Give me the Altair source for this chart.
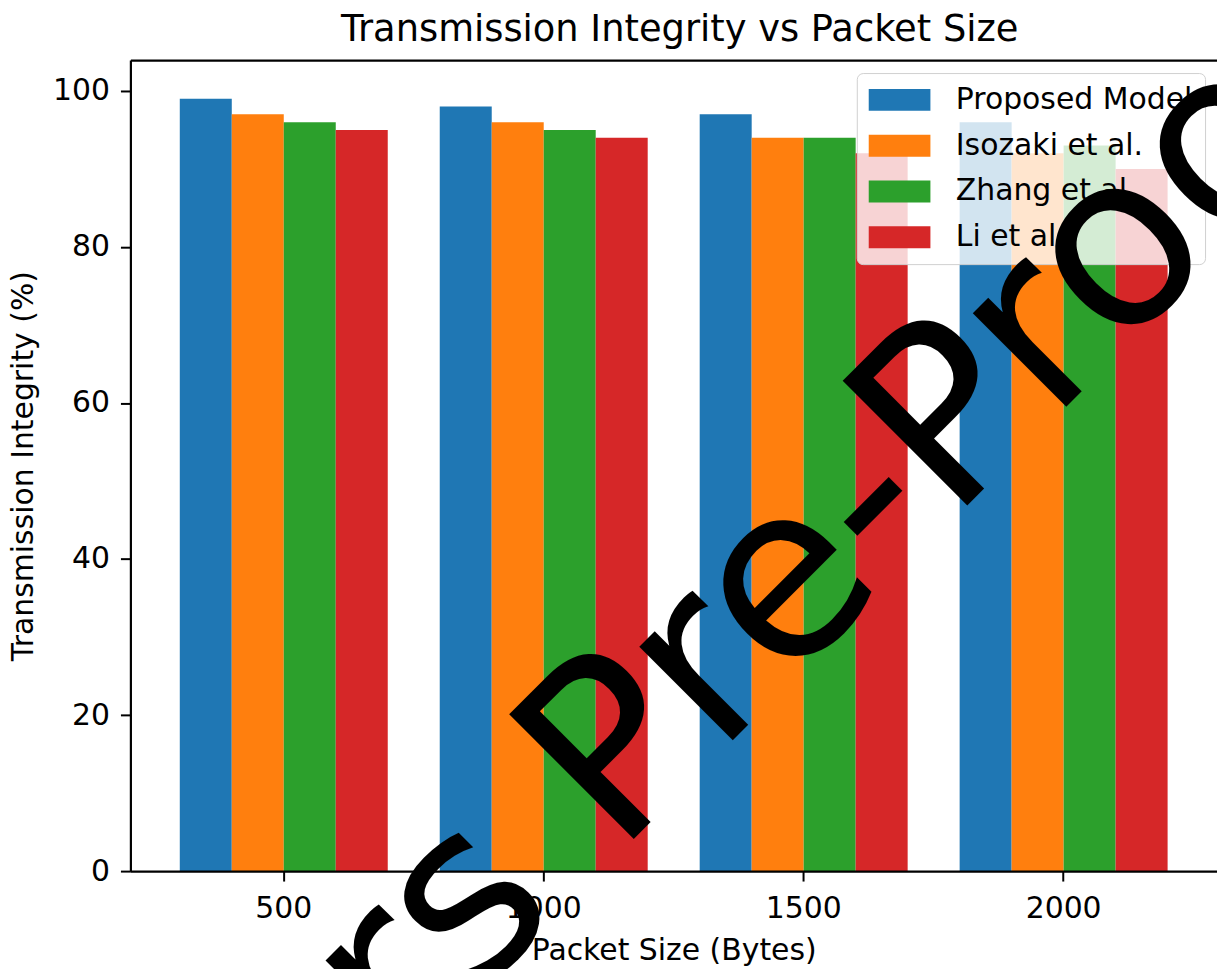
import altair as alt
import pandas as pd

packet_sizes = ["500", "1000", "1500", "2000"]
methods = ["Proposed Model", "Isozaki et al.", "Zhang et al.", "Li et al."]
proposed_model = [99, 98, 97, 96]
isozaki = [97, 96, 94, 92]
zhang = [96, 95, 94, 93]
li = [95, 94, 92, 90]
palette = ["#1f77b4", "#ff7f0e", "#2ca02c", "#d62728"]
y_tick_values = [0, 20, 40, 60, 80, 100]
chart_title = "Transmission Integrity vs Packet Size"
x_title = "Packet Size (Bytes)"
y_title = "Transmission Integrity (%)"
watermark = "Authors Pre-Proof"

records = []
for m, vals in zip(methods, [proposed_model, isozaki, zhang, li]):
    for s, v in zip(packet_sizes, vals):
        records.append({"size": s, "method": m, "value": v})
df = pd.DataFrame(records)

W, H = 1092, 815
FONT = "DejaVu Sans"

x_scale = alt.Scale(domain=packet_sizes, paddingInner=0.2, paddingOuter=0.19)
y_scale = alt.Scale(domain=[0, 103.95], nice=False, zero=False)

legend = alt.Legend(
    title=None, orient="none", legendX=730, legendY=13,
    symbolType="M-1,-0.733H3.133V0.733H-1Z", symbolSize=900,
    symbolStrokeWidth=0, symbolOpacity=1,
    labelFont=FONT, labelFontSize=30, labelColor="black", labelOffset=57.5,
    labelLimit=500, rowPadding=16, padding=12,
    fillColor="rgba(255,255,255,0.8)", strokeColor="#d0d0d0",
    cornerRadius=6,
)

bars = alt.Chart(df).mark_bar().encode(
    x=alt.X("size:N", scale=x_scale,
            axis=alt.Axis(title=x_title, orient="bottom", labelAngle=0,
                          labelPadding=13, titlePadding=12, zindex=1)),
    xOffset=alt.XOffset("method:N",
                        scale=alt.Scale(domain=methods, paddingInner=0, paddingOuter=0)),
    y=alt.Y("value:Q", scale=y_scale,
            axis=alt.Axis(title=y_title, values=y_tick_values, labelPadding=11,
                          titlePadding=14, zindex=1)),
    color=alt.Color("method:N", scale=alt.Scale(domain=methods, range=palette), legend=legend),
)

frame = alt.Chart(df).mark_point(opacity=0).encode(
    x=alt.X("size:N",
            axis=alt.Axis(orient="top", title=watermark, labels=False, ticks=False,
                          domain=True, domainColor="black", domainWidth=2.2,
                          titleX=-234, titleY=1521.7, titleAngle=315,
                          titleAlign="left", titleBaseline="alphabetic",
                          titleFontSize=243, titleFont=FONT, titleFontWeight="normal",
                          titleColor="black", titleLimit=10000, zindex=3, grid=False))
)

title_layer = alt.Chart(pd.DataFrame({"t": [chart_title]})).mark_text(
    font=FONT, fontSize=37, align="center", baseline="alphabetic", color="black"
).encode(text="t:N", x=alt.value(W / 2 + 6), y=alt.value(-19))

chart = alt.layer(bars, frame, title_layer).resolve_axis(x="independent").properties(
    width=W, height=H,
    padding={"left": 123, "top": 50, "right": 0, "bottom": 96},
    autosize=alt.AutoSizeParams(type="none"),
    background="white",
).configure_view(stroke=None).configure_axis(
    labelFont=FONT, labelFontSize=30, labelColor="black",
    titleFont=FONT, titleFontSize=30, titleFontWeight="normal", titleColor="black",
    tickColor="black", tickSize=10, tickWidth=2,
    domainColor="black", domainWidth=2.2, grid=False,
)

chart.save("out.html", embed_options={"renderer": "svg", "actions": False})
